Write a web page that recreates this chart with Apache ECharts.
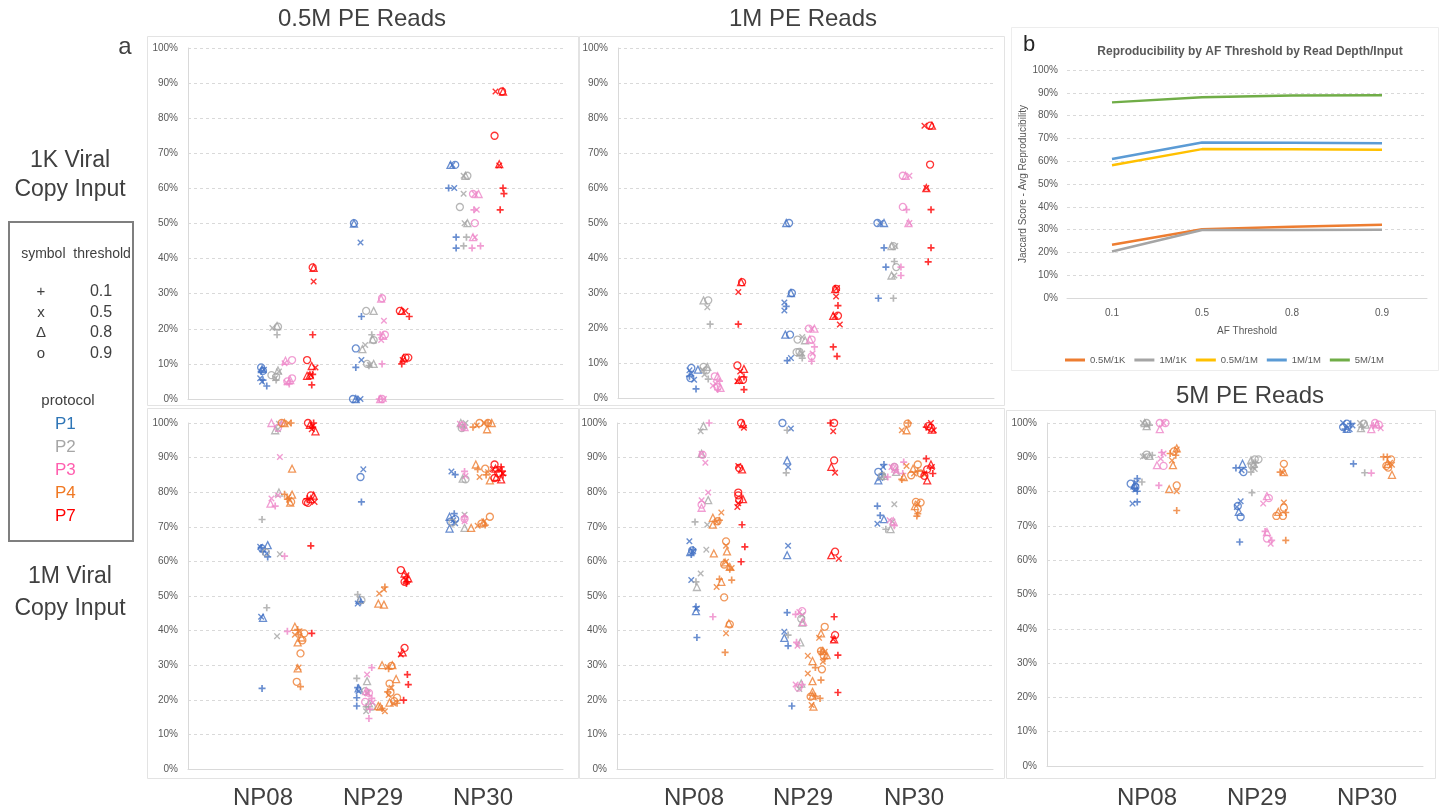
<!DOCTYPE html>
<html><head><meta charset="utf-8">
<script src="https://cdn.jsdelivr.net/npm/echarts@6/dist/echarts.min.js"></script>
<style>html,body{margin:0;padding:0;background:#fff}#c{width:1440px;height:811px}</style>
</head><body><div id="c"></div>
<script>
// ---------- DATA ----------
const protocols = ['P1', 'P2', 'P3', 'P4', 'P7'];
const thresholdSymbols = ['+', 'x', 'D', 'o'];   // D = triangle
const thresholdLabels = ['0.1', '0.5', '0.8', '0.9'];
const sampleLabels = ['NP08', 'NP29', 'NP30'];
const yTickLabels = ['0%','10%','20%','30%','40%','50%','60%','70%','80%','90%','100%'];

// panel b
const afThresholds = ['0.1', '0.5', '0.8', '0.9'];
const lineNames = ['0.5M/1K', '1M/1K', '0.5M/1M', '1M/1M', '5M/1M'];
const line_05M_1K = [23.4, 30.2, 31.2, 32.1];
const line_1M_1K = [20.4, 29.8, 29.8, 29.9];
const line_05M_1M = [58.2, 65.3, 65.2, 65.0];
const line_1M_1M = [61.0, 68.2, 68.1, 67.9];
const line_5M_1M = [85.8, 88.0, 88.8, 88.9];

// rows: [protocol, threshold symbol, x position, reproducibility %]
const reads05M_viral1K = [
 ['P1','o',0.78,9.0],['P1','D',0.79,8.5],['P1','x',0.81,8.3],['P1','+',0.78,7.8],['P1','x',0.77,5.9],['P1','+',0.80,5.4],['P1','x',0.79,4.9],['P1','+',0.84,3.7],['P1','o',0.80,8.0],
 ['P2','D',0.95,20.8],['P2','o',0.96,20.6],['P2','x',0.90,20.2],['P2','+',0.95,18.3],['P2','o',0.89,6.8],['P2','D',0.96,8.1],['P2','x',0.97,7.8],['P2','+',0.94,5.4],['P2','x',0.93,5.9],['P2','o',0.94,6.3],
 ['P3','D',1.04,10.9],['P3','o',1.11,11.1],['P3','x',1.03,10.2],['P3','o',1.11,5.9],['P3','x',1.05,4.7],['P3','+',1.08,4.3],['P3','D',1.09,5.4],['P3','o',1.06,5.0],
 ['P7','o',1.33,37.5],['P7','D',1.34,37.4],['P7','x',1.34,33.5],['P7','+',1.33,18.3],['P7','o',1.27,11.1],['P7','D',1.32,9.4],['P7','x',1.36,9.0],['P7','D',1.27,6.6],['P7','D',1.30,6.8],['P7','x',1.31,6.8],['P7','+',1.32,4.0],['P7','+',1.33,7.0],
 ['P1','o',1.77,50.1],['P1','D',1.77,50.0],['P1','x',1.84,44.6],['P1','+',1.85,23.5],['P1','o',1.79,14.4],['P1','x',1.85,11.1],['P1','+',1.79,9.0],['P1','o',1.76,0],['P1','D',1.79,0],['P1','x',1.84,0],['P1','+',1.81,0],
 ['P2','o',1.90,25.1],['P2','D',1.98,25.1],['P2','x',1.89,15.4],['P2','D',1.86,14.2],['P2','+',1.96,18.3],['P2','o',1.98,16.8],['P2','D',1.97,17.0],['P2','o',1.91,10.0],['P2','x',1.94,9.7],['P2','D',1.98,10.0],['P2','+',1.93,9.5],
 ['P3','o',2.07,28.7],['P3','D',2.06,28.6],['P3','x',2.09,22.3],['P3','+',2.05,18.3],['P3','o',2.10,18.3],['P3','D',2.08,18.0],['P3','x',2.06,16.8],['P3','+',2.07,10.0],['P3','o',2.07,0],['P3','D',2.05,0],['P3','x',2.09,0],['P3','+',2.04,0],
 ['P7','o',2.26,25.1],['P7','D',2.28,25.1],['P7','x',2.32,25.1],['P7','+',2.36,23.5],['P7','o',2.35,11.8],['P7','D',2.30,11.6],['P7','x',2.29,11.1],['P7','+',2.28,10.0],['P7','o',2.32,11.8],
 ['P1','D',2.80,66.7],['P1','x',2.82,66.7],['P1','o',2.85,66.7],['P1','+',2.78,60.1],['P1','x',2.84,60.1],['P1','+',2.86,46.1],['P1','+',2.86,43.0],
 ['P2','x',2.94,63.6],['P2','D',2.96,63.6],['P2','o',2.98,63.6],['P2','x',2.94,58.5],['P2','o',2.90,54.7],['P2','x',2.95,50.1],['P2','D',2.98,50.1],['P2','+',2.97,46.1],['P2','+',2.94,43.6],
 ['P3','o',3.04,58.4],['P3','x',3.06,58.4],['P3','D',3.10,58.4],['P3','x',3.08,53.9],['P3','+',3.05,53.9],['P3','o',3.06,50.1],['P3','D',3.04,46.1],['P3','x',3.06,46.1],['P3','+',3.03,43.0],['P3','+',3.12,43.6],
 ['P7','x',3.28,87.6],['P7','o',3.35,87.6],['P7','D',3.36,87.6],['P7','o',3.27,75.0],['P7','D',3.32,66.9],['P7','x',3.32,66.5],['P7','+',3.36,60.1],['P7','+',3.37,58.5],['P7','+',3.33,53.9]
];

const reads1M_viral1K = [
 ['P1','o',0.78,8.6],['P1','x',0.76,7.9],['P1','+',0.76,6.2],['P1','x',0.81,5.2],['P1','D',0.85,8.1],['P1','+',0.83,2.6],['P1','o',0.77,5.7],['P1','x',0.78,7.0],
 ['P2','D',0.91,27.9],['P2','o',0.96,27.9],['P2','x',0.95,25.9],['P2','+',0.98,21.1],['P2','o',0.91,8.9],['P2','D',0.95,8.9],['P2','x',0.92,6.7],['P2','+',0.96,5.4],['P2','o',0.94,7.9],['P2','x',0.90,8.1],
 ['P3','o',1.03,6.2],['P3','D',1.06,6.2],['P3','x',1.04,4.1],['P3','+',1.08,4.8],['P3','o',1.06,3.1],['P3','D',1.09,2.9],['P3','x',1.01,3.5],['P3','+',1.06,2.4],
 ['P7','o',1.32,33.1],['P7','D',1.31,33.1],['P7','x',1.28,30.3],['P7','+',1.28,21.1],['P7','o',1.27,9.3],['P7','D',1.34,8.3],['P7','x',1.30,7.6],['P7','+',1.34,6.0],['P7','D',1.29,5.2],['P7','o',1.33,5.2],['P7','x',1.27,4.8],['P7','+',1.34,2.4],
 ['P1','o',1.82,50.0],['P1','D',1.79,50.0],['P1','x',1.77,27.3],['P1','+',1.79,26.2],['P1','x',1.77,25.0],['P1','D',1.84,30.0],['P1','o',1.85,30.0],['P1','D',1.78,18.1],['P1','o',1.83,18.1],['P1','+',1.80,10.7],['P1','x',1.84,11.4],
 ['P2','o',1.91,16.7],['P2','x',1.96,17.4],['P2','D',1.99,16.5],['P2','o',1.90,13.1],['P2','D',1.94,13.0],['P2','x',1.96,12.7],['P2','+',1.96,11.4],['P2','o',1.93,13.2],
 ['P3','o',2.03,19.8],['P3','x',2.06,19.8],['P3','D',2.09,19.8],['P3','o',2.06,16.7],['P3','D',2.04,16.7],['P3','+',2.09,14.6],['P3','x',2.07,12.7],['P3','o',2.06,11.9],['P3','+',2.06,10.5],
 ['P7','x',2.33,31.4],['P7','D',2.31,31.1],['P7','o',2.32,31.2],['P7','x',2.32,29.0],['P7','+',2.34,26.4],['P7','D',2.29,23.5],['P7','x',2.31,23.5],['P7','o',2.34,23.5],['P7','x',2.36,21.0],['P7','+',2.29,14.6],['P7','+',2.33,11.9],
 ['P1','o',2.76,50.0],['P1','x',2.79,50.0],['P1','D',2.83,50.0],['P1','+',2.83,42.9],['P1','+',2.85,37.4],['P1','+',2.77,28.5],
 ['P2','D',2.91,43.4],['P2','o',2.93,43.4],['P2','x',2.95,43.4],['P2','+',2.94,39.0],['P2','o',2.96,37.4],['P2','x',2.94,35.0],['P2','D',2.91,35.0],['P2','+',2.93,28.5],
 ['P3','o',3.03,63.5],['P3','D',3.06,63.5],['P3','x',3.10,63.5],['P3','o',3.03,54.6],['P3','+',3.07,53.8],['P3','D',3.09,50.0],['P3','x',3.10,50.0],['P3','+',3.01,37.4],['P3','+',3.01,35.0],
 ['P7','x',3.26,77.8],['P7','o',3.32,77.8],['P7','D',3.34,77.8],['P7','o',3.32,66.7],['P7','D',3.28,60.0],['P7','x',3.28,60.0],['P7','+',3.33,53.8],['P7','+',3.33,42.9],['P7','+',3.30,38.9]
];

const reads05M_viral1M = [
 ['P1','x',0.77,64.2],['P1','+',0.78,64.0],['P1','o',0.79,63.7],['P1','D',0.85,64.7],['P1','+',0.80,62.8],['P1','x',0.84,62.3],['P1','+',0.85,61.3],['P1','x',0.78,44.0],['P1','D',0.80,43.7],['P1','+',0.79,23.3],
 ['P2','D',0.93,97.9],['P2','x',0.96,98.2],['P2','x',0.97,99.8],['P2','+',0.79,72.1],['P2','D',0.97,79.9],['P2','x',0.98,62.1],['P2','o',0.83,62.6],['P2','+',0.84,46.6],['P2','x',0.95,38.4],
 ['P3','D',0.89,100],['P3','o',0.96,98.6],['P3','+',1.00,100],['P3','x',0.98,90.2],['P3','x',0.89,78.2],['P3','D',0.88,76.7],['P3','+',0.93,76.0],['P3','x',0.96,79.1],['P3','+',1.03,61.5],['P3','+',1.06,39.8],
 ['P4','o',1.00,100],['P4','D',1.03,100],['P4','x',1.07,100],['P4','+',1.10,100],['P4','D',1.11,86.8],['P4','+',1.03,79.4],['P4','x',1.07,78.6],['P4','D',1.11,79.3],['P4','o',1.10,77.2],['P4','D',1.09,77.0],['P4','x',1.08,77.8],['P4','+',1.06,78.0],
 ['P4','D',1.14,41.1],['P4','+',1.17,40.3],['P4','x',1.19,39.8],['P4','o',1.24,39.2],['P4','D',1.21,38.0],['P4','+',1.18,38.8],['P4','x',1.14,38.8],['P4','D',1.17,36.6],['P4','o',1.22,37.2],['P4','o',1.20,33.4],['P4','D',1.17,29.1],['P4','x',1.18,29.3],['P4','o',1.16,25.2],['P4','+',1.20,23.8],
 ['P7','o',1.28,100],['P7','D',1.30,99.5],['P7','x',1.33,99.1],['P7','+',1.34,100],['P7','x',1.32,98.2],['P7','D',1.36,97.6],['P7','+',1.33,98.8],['P7','o',1.26,77.2],['P7','D',1.31,78.0],['P7','x',1.35,77.2],['P7','o',1.31,79.1],['P7','+',1.27,78.1],['P7','D',1.34,79.0],['P7','o',1.28,76.9],['P7','+',1.31,64.5],['P7','+',1.32,39.2],
 ['P1','o',1.84,84.4],['P1','x',1.87,86.6],['P1','+',1.85,77.2],['P1','x',1.81,47.8],['P1','+',1.84,48.3],['P1','D',1.83,48.9],['P1','+',1.81,23.5],['P1','x',1.82,22.5],['P1','D',1.82,23.3],['P1','+',1.80,20.6],['P1','+',1.80,18.2],
 ['P2','+',1.81,50.4],['P2','o',1.85,48.8],['P2','+',1.80,26.2],['P2','D',1.91,25.4],['P2','o',1.89,22.5],['P2','+',1.90,18.0],['P2','x',1.90,16.7],['P2','D',1.93,19.0],['P2','o',1.96,18.0],['P2','x',1.91,22.0],
 ['P3','x',1.91,27.3],['P3','+',1.96,29.3],['P3','x',1.92,21.8],['P3','o',1.93,22.0],['P3','D',1.90,22.5],['P3','+',1.96,20.4],['P3','o',1.89,19.4],['P3','x',1.97,19.2],['P3','+',1.93,14.6],['P3','+',1.94,17.3],
 ['P4','x',2.04,50.7],['P4','+',2.10,52.6],['P4','x',2.09,51.9],['P4','D',2.03,47.8],['P4','D',2.09,47.5],['P4','D',2.07,30.0],['P4','x',2.13,29.5],['P4','o',2.17,29.8],['P4','+',2.14,29.0],['P4','D',2.18,30.0],['P4','o',2.15,24.7],['P4','x',2.17,23.5],['P4','+',2.13,22.3],['P4','o',2.16,22.1],['P4','D',2.22,26.0],['P4','x',2.14,21.4],['P4','o',2.23,20.6],['P4','D',2.15,19.2],['P4','x',2.19,19.0],['P4','+',2.23,19.0],['P4','o',2.20,19.6],['P4','D',2.05,18.0],['P4','+',2.07,17.5],['P4','x',2.10,16.7],['P4','D',2.03,18.2],
 ['P7','o',2.27,57.5],['P7','D',2.31,56.5],['P7','x',2.33,56.0],['P7','+',2.33,53.6],['P7','D',2.35,55.1],['P7','o',2.31,54.1],['P7','x',2.32,54.6],['P7','+',2.34,54.1],['P7','o',2.31,35.0],['P7','x',2.27,33.1],['P7','D',2.29,33.7],['P7','+',2.34,27.3],['P7','+',2.35,24.4],['P7','+',2.30,19.9],
 ['P1','x',2.81,86.0],['P1','+',2.85,85.1],['P1','D',2.79,72.9],['P1','+',2.84,73.8],['P1','x',2.83,71.9],['P1','o',2.80,71.5],['P1','D',2.79,69.5],['P1','x',2.85,71.0],['P1','o',2.85,72.2],
 ['P2','D',2.91,100],['P2','x',2.96,100],['P2','+',2.94,98.6],['P2','o',2.92,98.5],['P2','D',2.93,83.9],['P2','o',2.96,83.7],['P2','x',2.95,73.5],['P2','D',2.95,69.7],['P2','o',2.82,71.2],
 ['P3','x',2.90,99.8],['P3','D',2.95,98.8],['P3','o',2.93,99.1],['P3','+',2.95,86.0],['P3','x',2.96,84.7],['P3','+',2.95,72.9],['P3','x',2.95,71.6],['P3','o',2.95,72.3],
 ['P4','+',3.04,98.8],['P4','x',3.08,99.3],['P4','o',3.11,100],['P4','D',3.19,98.2],['P4','D',3.24,100],['P4','+',3.20,100],['P4','x',3.16,100],['P4','o',3.20,100],['P4','D',3.07,88.0],['P4','o',3.17,86.8],['P4','+',3.09,86.6],['P4','x',3.11,84.4],['P4','D',3.22,83.4],['P4','x',3.20,85.8],['P4','+',3.18,85.0],['P4','o',3.22,72.9],['P4','D',3.02,69.7],['P4','x',3.09,70.3],['P4','D',3.15,71.2],['P4','+',3.17,70.5],['P4','x',3.16,71.6],['P4','o',3.13,70.9],
 ['P7','o',3.27,88.0],['P7','D',3.28,86.8],['P7','x',3.32,86.6],['P7','+',3.34,87.3],['P7','o',3.31,85.4],['P7','D',3.29,84.4],['P7','x',3.36,85.4],['P7','+',3.35,86.1],['P7','o',3.27,84.1],['P7','x',3.25,86.6],['P7','+',3.36,84.9],['P7','D',3.34,83.7]
];

const reads1M_viral1M = [
 ['P1','x',0.77,65.8],['P1','x',0.81,62.9],['P1','+',0.79,62.0],['P1','o',0.80,63.2],['P1','D',0.78,62.7],['P1','+',0.81,63.4],['P1','x',0.79,54.6],['P1','x',0.85,46.4],['P1','+',0.84,46.9],['P1','D',0.84,45.6],['P1','+',0.85,38.0],
 ['P2','x',0.89,97.6],['P2','D',0.92,99.1],['P2','D',0.90,91.1],['P2','+',0.83,71.4],['P2','x',0.96,70.6],['P2','D',0.97,77.7],['P2','x',0.95,63.4],['P2','x',0.89,56.5],['P2','+',0.84,54.1],['P2','D',0.85,52.6],
 ['P3','+',0.98,100],['P3','x',0.90,91.1],['P3','o',0.91,90.8],['P3','x',0.94,88.5],['P3','x',0.97,79.9],['P3','x',0.90,77.7],['P3','o',0.90,76.4],['P3','D',0.90,75.5],['P3','+',1.02,44.0],
 ['P4','x',1.11,74.1],['P4','D',1.02,72.6],['P4','o',1.07,71.6],['P4','+',1.09,71.9],['P4','x',1.06,71.4],['P4','D',1.02,70.6],['P4','D',1.03,62.3],['P4','o',1.16,65.8],['P4','D',1.17,62.9],['P4','x',1.16,64.5],['P4','o',1.14,59.1],['P4','D',1.15,59.7],['P4','x',1.16,59.9],['P4','+',1.20,57.7],['P4','x',1.22,58.1],['P4','D',1.20,58.4],['P4','+',1.09,54.9],['P4','D',1.11,54.1],['P4','x',1.06,52.6],['P4','+',1.22,54.6],['P4','o',1.14,49.6],['P4','o',1.20,41.8],['P4','D',1.19,42.1],['P4','x',1.16,39.2],['P4','+',1.15,33.7],
 ['P7','o',1.32,100],['P7','D',1.34,99.7],['P7','x',1.35,98.6],['P7','o',1.30,87.0],['P7','x',1.29,87.6],['P7','D',1.33,86.6],['P7','o',1.29,79.1],['P7','o',1.30,77.7],['P7','x',1.28,75.7],['P7','D',1.34,78.0],['P7','x',1.29,76.8],['P7','o',1.29,79.9],['P7','+',1.33,70.6],['P7','+',1.36,64.2],['P7','+',1.32,59.9],
 ['P1','o',1.76,100],['P1','x',1.85,98.4],['P1','D',1.81,89.2],['P1','x',1.82,87.3],['P1','x',1.82,64.5],['P1','D',1.81,61.8],['P1','+',1.81,45.2],['P1','x',1.78,39.7],['P1','D',1.78,37.9],['P1','+',1.82,35.6],['P1','+',1.86,18.2],
 ['P2','+',1.81,97.9],['P2','+',1.80,85.6],['P2','+',1.82,38.7],['P2','D',1.95,36.6],['P2','x',1.97,44.5],['P2','D',1.97,42.3],['P2','o',1.96,43.4],['P2','x',1.94,23.1],['P2','D',1.96,24.7],
 ['P3','+',1.90,44.7],['P3','x',1.94,45.4],['P3','o',1.97,45.6],['P3','D',1.98,42.5],['P3','x',1.92,35.6],['P3','+',1.91,36.6],['P3','+',1.97,24.4],['P3','x',1.90,24.4],['P3','o',1.93,23.5],
 ['P4','x',2.03,32.7],['P4','D',2.08,31.2],['P4','x',2.03,27.6],['P4','+',2.11,29.3],['P4','D',2.08,25.4],['P4','+',2.17,25.7],['P4','D',2.08,22.3],['P4','+',2.11,21.0],['P4','o',2.06,20.9],['P4','D',2.08,21.2],['P4','+',2.16,20.4],['P4','x',2.07,18.5],['P4','D',2.09,18.0],['P4','x',2.15,37.9],['P4','D',2.17,39.2],['P4','o',2.21,41.1],['P4','o',2.17,34.1],['P4','D',2.19,34.1],['P4','x',2.21,33.9],['P4','+',2.17,33.9],['P4','D',2.23,32.9],['P4','o',2.20,32.7],['P4','+',2.21,31.9],['P4','x',2.19,31.0],['P4','o',2.18,28.8],
 ['P7','o',2.31,100],['P7','+',2.27,100],['P7','x',2.30,97.6],['P7','o',2.31,89.2],['P7','D',2.28,87.3],['P7','x',2.32,85.6],['P7','o',2.32,62.8],['P7','D',2.28,61.8],['P7','x',2.36,60.8],['P7','+',2.31,44.0],['P7','o',2.32,38.7],['P7','D',2.31,37.5],['P7','x',2.30,37.5],['P7','+',2.35,32.9],['P7','+',2.35,22.1],
 ['P1','o',2.78,85.9],['P1','x',2.83,87.3],['P1','+',2.84,88.0],['P1','D',2.78,83.4],['P1','x',2.80,84.1],['P1','+',2.82,85.2],['P1','+',2.77,76.0],['P1','+',2.80,73.3],['P1','x',2.77,70.9],['P1','D',2.84,72.2],
 ['P2','o',2.82,84.7],['P2','D',2.84,84.7],['P2','+',2.84,84.4],['P2','x',2.95,76.5],['P2','+',2.86,69.3],['P2','D',2.91,69.3],['P2','x',2.93,71.5],['P2','o',2.95,87.3],['P2','D',2.97,85.9],
 ['P3','+',2.88,84.4],['P3','x',2.92,87.3],['P3','o',2.95,87.3],['P3','D',2.96,86.8],['P3','x',2.97,85.9],['P3','+',3.05,88.7],['P3','+',3.04,85.4],['P3','x',2.90,71.9],['P3','+',2.95,70.3],['P3','D',2.94,71.6],
 ['P4','D',3.08,97.9],['P4','x',3.03,97.9],['P4','o',3.09,99.8],['P4','+',3.10,100],['P4','x',3.08,87.6],['P4','D',3.05,84.4],['P4','+',3.03,83.7],['P4','o',3.13,84.9],['P4','x',3.16,85.4],['P4','o',3.20,88.0],['P4','D',3.15,86.8],['P4','+',3.20,86.1],['P4','o',3.23,85.4],['P4','x',3.27,85.1],['P4','o',3.18,77.2],['P4','o',3.23,77.0],['P4','x',3.20,76.7],['P4','D',3.17,76.0],['P4','o',3.20,75.1],['P4','+',3.20,73.8],['P4','+',3.19,73.1],
 ['P7','x',3.34,100],['P7','o',3.31,99.1],['P7','D',3.35,98.1],['P7','+',3.29,98.8],['P7','o',3.34,98.6],['P7','x',3.37,97.9],['P7','+',3.29,89.7],['P7','D',3.34,88.0],['P7','x',3.35,87.3],['P7','o',3.30,86.6],['P7','x',3.27,85.4],['P7','+',3.36,85.4],['P7','D',3.30,83.4],['P7','o',3.27,84.7]
];

const reads5M_viral1M = [
 ['P1','+',0.96,83.8],['P1','o',0.89,82.3],['P1','x',0.95,82.6],['P1','o',0.94,81.3],['P1','+',0.93,81.0],['P1','x',0.94,80.6],['P1','D',0.93,81.8],['P1','+',0.96,80.1],['P1','x',0.91,76.5],['P1','+',0.96,77.0],
 ['P2','o',1.06,100],['P2','D',1.04,100],['P2','x',1.02,100],['P2','+',1.09,99.4],['P2','D',1.06,99.1],['P2','+',1.01,82.8],['P2','x',1.04,90.4],['P2','o',1.06,90.8],['P2','D',1.09,90.4],['P2','+',1.12,90.6],['P2','x',1.02,90.2],
 ['P3','o',1.20,100],['P3','D',1.20,98.2],['P3','x',1.24,100],['P3','o',1.26,100],['P3','D',1.17,87.7],['P3','o',1.24,87.5],['P3','x',1.21,89.6],['P3','+',1.22,91.4],['P3','x',1.24,91.1],['P3','+',1.19,81.8],
 ['P4','+',1.31,91.1],['P4','o',1.35,91.7],['P4','x',1.38,92.3],['P4','D',1.38,92.6],['P4','+',1.37,90.6],['P4','x',1.33,89.1],['P4','D',1.34,87.7],['P4','D',1.30,80.7],['P4','x',1.38,80.1],['P4','o',1.38,81.8],['P4','+',1.38,74.5],
 ['P1','+',2.01,86.9],['P1','x',2.07,86.2],['P1','o',2.09,85.7],['P1','D',2.08,88.1],['P1','x',2.06,77.2],['P1','x',2.02,75.5],['P1','o',2.03,75.8],['P1','D',2.04,74.1],['P1','o',2.06,72.6],['P1','+',2.05,65.3],
 ['P2','D',2.17,89.1],['P2','o',2.21,89.4],['P2','+',2.17,85.7],['P2','x',2.19,87.2],['P2','o',2.25,89.4],['P2','D',2.20,88.1],['P2','+',2.22,88.4],['P2','x',2.21,86.6],['P2','o',2.18,87.6],['P2','+',2.18,79.7],
 ['P3','x',2.30,76.5],['P3','D',2.34,78.7],['P3','o',2.36,78.1],['P3','+',2.32,68.4],['P3','o',2.34,66.3],['P3','D',2.34,68.2],['P3','x',2.38,64.8],['P3','+',2.39,65.8],
 ['P4','o',2.52,88.1],['P4','+',2.48,85.7],['P4','x',2.51,85.5],['P4','D',2.52,85.7],['P4','x',2.52,76.8],['P4','o',2.52,75.3],['P4','D',2.46,74.1],['P4','o',2.44,72.9],['P4','o',2.51,72.9],['P4','+',2.54,73.9],['P4','+',2.54,65.8],
 ['P1','x',3.15,100],['P1','o',3.19,99.8],['P1','+',3.23,99.8],['P1','x',3.25,99.3],['P1','o',3.15,98.8],['P1','D',3.19,98.3],['P1','+',3.17,98.2],['P1','x',3.22,98.2],['P1','+',3.26,88.1],
 ['P2','x',3.33,100],['P2','o',3.37,99.8],['P2','D',3.39,99.5],['P2','+',3.35,98.8],['P2','D',3.34,98.5],['P2','+',3.38,85.5],
 ['P3','o',3.49,100],['P3','D',3.45,98.2],['P3','x',3.55,98.5],['P3','o',3.53,99.5],['P3','+',3.47,99.3],['P3','D',3.51,99.6],['P3','+',3.45,85.4],
 ['P4','+',3.58,90.1],['P4','o',3.66,89.4],['P4','x',3.65,88.4],['P4','D',3.62,88.1],['P4','+',3.62,90.1],['P4','o',3.61,87.5],['P4','D',3.67,84.9],['P4','x',3.67,87.8],['P4','o',3.63,87.0]
];

// ---------- STYLE ----------
const protocolColor = {P1:'#4472C4', P2:'#A5A5A5', P3:'#EE86C8', P4:'#ED7D31', P7:'#FF0000'};
const legendTextColor = {P1:'#2E75B6', P2:'#A6A6A6', P3:'#FF5FAF', P4:'#F07822', P7:'#FF0000'};
const lineColors = ['#ED7D31', '#A5A5A5', '#FFC000', '#5B9BD5', '#70AD47'];
const SYM = {
  '+': 'path://M3.8,0H6.2V3.8H10V6.2H6.2V10H3.8V6.2H0V3.8H3.8Z',
  'x': 'path://M1.5,0L5,3.5L8.5,0L10,1.5L6.5,5L10,8.5L8.5,10L5,6.5L1.5,10L0,8.5L3.5,5L0,1.5Z',
  'D': 'triangle',
  'o': 'circle'
};
const AX = '#D9D9D9', LBL = '#595959', TXT = '#404040';
const FONT = "'Liberation Sans', Arial, sans-serif";

const panels = [
  {data: reads05M_viral1K, grid: {left:188, top:48, width:375, height:351}},
  {data: reads1M_viral1K,  grid: {left:618, top:48, width:376, height:350}},
  {data: reads05M_viral1M, grid: {left:188, top:423, width:375, height:346}},
  {data: reads1M_viral1M,  grid: {left:617, top:423, width:376, height:346}},
  {data: reads5M_viral1M,  grid: {left:1047, top:423, width:376, height:343}}
];

const grid = [], xAxis = [], yAxis = [], series = [];
panels.forEach((p, i) => {
  grid.push(p.grid);
  xAxis.push({gridIndex:i, type:'value', min:0, max:4, axisLabel:{show:false}, axisTick:{show:false},
    splitLine:{show:false}, axisLine:{show:true, lineStyle:{color:AX, width:1}}});
  yAxis.push({gridIndex:i, type:'value', min:0, max:100, interval:10,
    axisLabel:{formatter: v => yTickLabels[Math.round(v/10)], fontSize:10, color:LBL, margin:10, fontFamily:FONT},
    axisLine:{show:true, lineStyle:{color:AX}}, axisTick:{show:false},
    splitLine:{show:true, lineStyle:{color:AX, type:[3,3]}}});
  protocols.forEach(pr => {
    thresholdSymbols.forEach(s => {
      const pts = p.data.filter(r => r[0] === pr && r[1] === s).map(r => [r[2], r[3]]);
      if (!pts.length) return;
      const c = protocolColor[pr];
      const hollow = (s === 'D' || s === 'o');
      series.push({
        type:'scatter', xAxisIndex:i, yAxisIndex:i, data:pts, silent:true, clip:false,
        symbol: SYM[s], symbolSize: s === 'x' ? 6.5 : 7,
        itemStyle: hollow ? {color:'rgba(255,255,255,0)', borderColor:c, borderWidth:1.3} : {color:c, borderWidth:0}
      });
    });
  });
});

// panel b line chart
grid.push({left:1067, top:70, width:360, height:228});
xAxis.push({gridIndex:5, type:'category', data:afThresholds, boundaryGap:true,
  axisLine:{lineStyle:{color:AX}}, axisTick:{show:false},
  axisLabel:{fontSize:10, color:LBL, margin:10, fontFamily:FONT},
  name:'AF Threshold', nameLocation:'middle', nameGap:28, nameTextStyle:{fontSize:10, color:LBL, fontFamily:FONT}});
yAxis.push({gridIndex:5, type:'value', min:0, max:100, interval:10,
  axisLabel:{formatter: v => yTickLabels[Math.round(v/10)], fontSize:10, color:LBL, margin:9, fontFamily:FONT},
  axisLine:{show:false}, axisTick:{show:false},
  splitLine:{lineStyle:{color:AX, type:[3,3]}},
  name:'Jaccard Score - Avg Reproducibility', nameLocation:'middle', nameGap:33, nameRotate:90,
  nameTextStyle:{fontSize:10, color:LBL, fontFamily:FONT}});
[line_05M_1K, line_1M_1K, line_05M_1M, line_1M_1M, line_5M_1M].forEach((d, k) => {
  series.push({type:'line', name:lineNames[k], xAxisIndex:5, yAxisIndex:5, data:d, showSymbol:false,
    symbol:'none', silent:true, lineStyle:{color:lineColors[k], width:2.5}, itemStyle:{color:lineColors[k]}});
});

// ---------- GRAPHICS / TEXT ----------
const g = [];
function rect(x, y, w, h, stroke, lw) { g.push({type:'rect', shape:{x, y, width:w, height:h}, style:{fill:'none', stroke, lineWidth:lw}, silent:true}); }
function text(t, x, y, size, color, align, weight) {
  g.push({type:'text', x, y, style:{text:t, fontSize:size, fill:color, align:align || 'center', verticalAlign:'middle', fontFamily:FONT, fontWeight:weight || 'normal'}, silent:true});
}
rect(147.5, 36.5, 431, 369, '#E3E3E3', 1);
rect(147.5, 408.5, 431, 370, '#E3E3E3', 1);
rect(579.5, 36.5, 425, 369, '#E3E3E3', 1);
rect(579.5, 408.5, 425, 370, '#E3E3E3', 1);
rect(1006.5, 410.5, 429, 368, '#E3E3E3', 1);
rect(1011.5, 27.5, 427, 343, '#EDEDED', 1);

text('0.5M PE Reads', 362, 19, 24, TXT);
text('1M PE Reads', 803, 19, 24, TXT);
text('5M PE Reads', 1250, 396, 24, TXT);
text('a', 125, 47, 24, TXT);
text('b', 1029, 45, 22, '#262626');
text('Reproducibility by AF Threshold by Read Depth/Input', 1250, 52, 12, '#595959', 'center', 'bold');

text('1K Viral', 70, 161, 23, TXT);
text('Copy Input', 70, 190, 23, TXT);
text('1M Viral', 70, 577, 23, TXT);
text('Copy Input', 70, 609, 23, TXT);

rect(9, 222, 124, 319, '#7F7F7F', 2);
text('symbol  threshold', 76, 254, 14, TXT);
const legSymChars = ['+', 'x', '\u0394', 'o'];
thresholdLabels.forEach((t, k) => {
  text(legSymChars[k], 41, 292 + k * 20.5, 15, TXT);
  text(t, 101, 292 + k * 20.5, 16, TXT);
});
text('protocol', 68, 401, 15, TXT);
protocols.forEach((p, k) => {
  g.push({type:'text', x:55, y:424 + k * 23, style:{text:p, fontSize:17, fill:legendTextColor[p], align:'left', verticalAlign:'middle', fontFamily:FONT}, silent:true});
});

const colCenters = [[263, 373, 483], [694, 803, 914], [1147, 1257, 1367]];
colCenters.forEach(cs => cs.forEach((cx, k) => {
  text(sampleLabels[k], cx, 798, 24, TXT);
}));

const chart = echarts.init(document.getElementById('c'), null, {renderer:'canvas'});
chart.setOption({
  animation:false,
  backgroundColor:'#ffffff',
  grid, xAxis, yAxis, series,
  legend:{data:lineNames, top:350, left:1060, itemWidth:20, itemHeight:3, itemGap:9, icon:'rect',
    textStyle:{fontSize:9.5, color:LBL, fontFamily:FONT}},
  graphic: g
});
</script>
</body></html>
